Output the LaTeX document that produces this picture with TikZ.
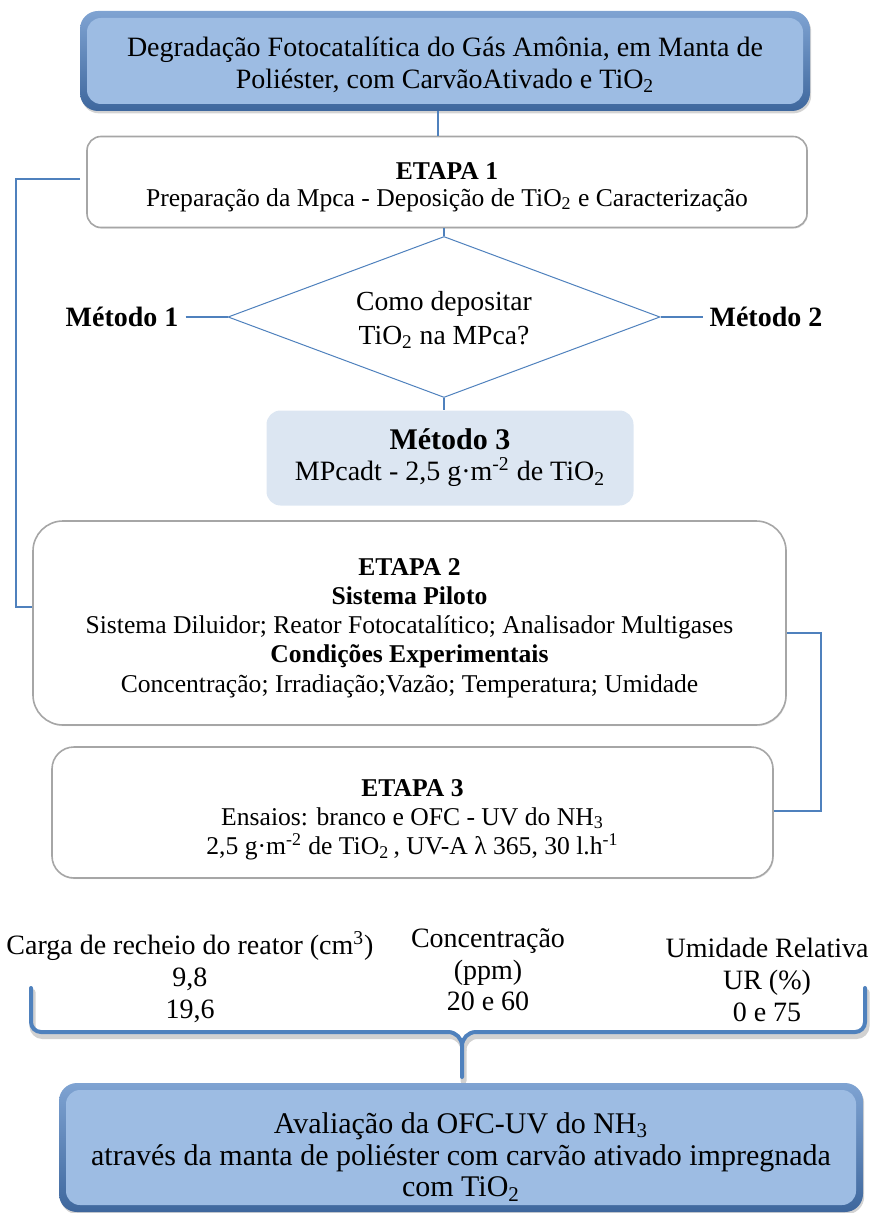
\documentclass[tikz,border=0pt]{standalone}
\usepackage{fontspec}
\setmainfont{Liberation Serif}
\usetikzlibrary{shapes.geometric, shadows, positioning, calc}

\definecolor{lineblue}{HTML}{4F81BD}
\definecolor{frametop}{HTML}{7FA3D2}
\definecolor{framebot}{HTML}{3E679D}
\definecolor{fillblue}{HTML}{9DBCE3}
\definecolor{paleblue}{HTML}{DCE6F2}
\definecolor{boxgray}{HTML}{A6A6A6}

\newcommand{\tio}{TiO\textsubscript{2}}
\newcommand{\lift}[1]{\rule{0pt}{#1}}

\begin{document}
\begin{tikzpicture}[
        x=0.5pt, y=-0.5pt,
        font=\fontsize{12.8}{14.6}\selectfont,
        every node/.style={align=center},
        bluebox/.style={
            rectangle, rounded corners=9pt,
            top color=frametop, bottom color=framebot,
            drop shadow={shadow xshift=0.6pt, shadow yshift=-1.2pt, opacity=0.35},
            inner sep=2pt,
            path picture={
                \fill[fillblue, rounded corners=7pt]
                    ($(path picture bounding box.north west)+(3.5pt,-3.5pt)$) rectangle
                    ($(path picture bounding box.south east)+(-3.5pt,3.5pt)$);
            }
        },
        etapa/.style={
            rectangle, rounded corners=7pt,
            draw=boxgray, line width=0.8pt, fill=white,
            drop shadow={shadow xshift=0.4pt, shadow yshift=-0.6pt, opacity=0.2},
            inner sep=2pt
        },
        decision/.style={
            diamond, draw=lineblue, line width=0.5pt, fill=white,
            inner sep=0pt, minimum width=216pt, minimum height=80.5pt, aspect=2.68,
            font=\fontsize{13.8}{17}\selectfont
        },
        method/.style={
            rectangle, rounded corners=7pt, fill=paleblue,
            minimum width=183.5pt, minimum height=47.5pt,
            font=\fontsize{14}{15.5}\selectfont
        },
        label/.style={font=\fontsize{14}{15.8}\selectfont},
        link/.style={lineblue, line width=0.8pt},
        brace/.style={lineblue, line width=2pt, line cap=round}
    ]
    \useasboundingbox (0,0) rectangle (872,1213);

    % caixa de titulo
    \node[bluebox, minimum width=365pt, minimum height=50pt,
          font=\fontsize{14}{16}\selectfont] (title) at (445,61)
        {\lift{13.5pt}Degradação Fotocatalítica do Gás Amônia, em Manta de\\Poliéster, com CarvãoAtivado e \tio};

    % etapa 1
    \node[etapa, minimum width=360pt, minimum height=45.5pt,
          font=\fontsize{12.8}{13.5}\selectfont] (et1) at (447,182)
        {\lift{13.4pt}\textbf{ETAPA 1}\\Preparação da Mpca - Deposição de \tio{} e Caracterização};
    \draw[link] (title.south -| 438,0) -- (et1.north -| 438,0);

    % decisao
    \node[decision] (dec) at (444,317) {\lift{12.5pt}Como depositar\\\tio{} na MPca?};
    \draw[link] (et1.south -| dec.north) -- (dec.north);
    \node[font=\fontsize{14}{15}\selectfont\bfseries, left=21pt of dec.west] (m1) {Método 1};
    \node[font=\fontsize{14}{15}\selectfont\bfseries, right=21pt of dec.east] (m2) {Método 2};
    \draw[link] (m1) -- (dec.west);
    \draw[link] (dec.east) -- (m2);

    \node[method] (m3) at (450,458)
        {{\fontsize{15}{15.5}\selectfont\textbf{Método 3}}\\MPcadt - 2,5 g·m\textsuperscript{-2} de \tio};
    \draw[link] (dec.south) -- (dec.south |- m3.north);

    % etapa 2
    \node[etapa, rounded corners=15pt, minimum width=376.5pt, minimum height=102pt] (et2) at (409.5,623)
        {\lift{13.5pt}\textbf{ETAPA 2}\\\textbf{Sistema Piloto}\\Sistema Diluidor; Reator Fotocatalítico; Analisador Multigases\\
         \textbf{Condições Experimentais}\\Concentração; Irradiação;Vazão; Temperatura; Umidade};

    % etapa 3
    \node[etapa, rounded corners=11pt, minimum width=360.5pt, minimum height=65.5pt] (et3) at (412.5,812.5)
        {\lift{15.5pt}\textbf{ETAPA 3}\\Ensaios: branco e OFC - UV do NH\textsubscript{3}\\
         2,5 g·m\textsuperscript{-2} de \tio\,, UV-A λ 365, 30 l.h\textsuperscript{-1}};

    % ligacoes laterais
    \draw[link] (80,179) -| (16,607) -- (et2.west |- 0,607);
    \draw[link] (et2.east |- 0,633) -| (821,811) -- (et3.east |- 0,811);

    % parametros
    \node[label] (carga) at (190,977)
        {Carga de recheio do reator (cm\textsuperscript{3})\\9,8\\19,6};
    \node[label] (conc) at (488,970) {Concentração\\(ppm)\\20 e 60};
    \node[label] (umid) at (767,980) {Umidade Relativa\\UR (\%)\\0 e 75};

    % chave
    \coordinate (tip) at (462,1077);
    \draw[brace, black!18, line width=3pt, shift={(1.5,4)}]
        (31,988) -- (31,1022) to[out=-90,in=180] (41,1032) -- (448,1032)
        to[out=0,in=90] (462,1046) -- (462,1077);
    \draw[brace, black!18, line width=3pt, shift={(1.5,4)}]
        (865,988) -- (865,1022) to[out=-90,in=0] (855,1032) -- (476,1032)
        to[out=180,in=90] (462,1046);
    \draw[brace]
        (31,988) -- (31,1022) to[out=-90,in=180] (41,1032) -- (448,1032)
        to[out=0,in=90] (462,1046) -- (tip);
    \draw[brace]
        (865,988) -- (865,1022) to[out=-90,in=0] (855,1032) -- (476,1032)
        to[out=180,in=90] (462,1046);

    % avaliacao final
    \node[bluebox, minimum width=402pt, minimum height=64.5pt,
          font=\fontsize{15}{15.8}\selectfont] (final) at (461,1147.5)
        {\lift{19.8pt}Avaliação da OFC-UV do NH\textsubscript{3}\\
         através da manta de poliéster com carvão ativado impregnada\\com \tio};
\end{tikzpicture}
\end{document}
